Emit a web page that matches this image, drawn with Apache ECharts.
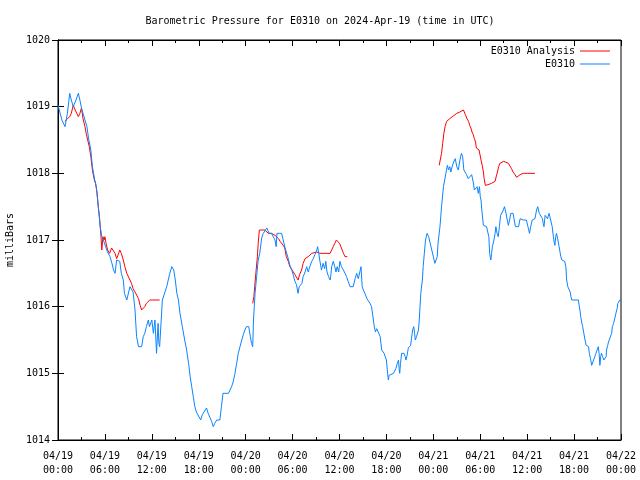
<!DOCTYPE html>
<html>
<head>
<meta charset="utf-8">
<script src="https://cdn.jsdelivr.net/npm/echarts@6/dist/echarts.min.js"></script>
<style>html,body{margin:0;padding:0;background:#fff}#c{width:640px;height:480px}</style>
</head>
<body>
<div id="c"></div>
<script>
// Hours since 2024-04-19 00:00 UTC
var timeObs = [0.0,0.5,0.9,1.2,1.5,1.7,1.95,2.3,2.6,2.8,3.0,3.2,3.45,3.7,3.9,4.2,4.4,4.7,4.9,5.15,5.4,5.6,5.8,6.0,6.3,6.65,6.9,7.1,7.3,7.5,7.9,8.1,8.35,8.5,8.8,9.0,9.2,9.6,9.85,10.05,10.3,10.7,10.9,11.1,11.3,11.55,11.7,12.0,12.2,12.4,12.6,12.8,12.9,13.0,13.35,13.6,13.9,14.1,14.3,14.55,14.8,15.0,15.2,15.4,15.6,15.9,16.2,16.45,16.7,16.9,17.1,17.3,17.5,17.7,17.95,18.25,18.45,18.7,19.0,19.2,19.4,19.65,19.85,20.05,20.3,20.7,20.9,21.1,21.8,22.0,22.2,22.4,22.6,22.85,23.05,23.2,23.5,23.7,23.9,24.1,24.4,24.6,24.75,24.9,25.0,25.1,25.2,25.4,25.6,25.8,26.05,26.25,26.45,26.7,26.9,27.0,27.3,27.55,27.75,27.9,28.0,28.3,28.6,28.8,29.0,29.2,29.45,29.65,29.9,30.1,30.3,30.5,30.7,30.85,31.0,31.2,31.35,31.6,31.8,32.0,32.2,32.45,32.65,32.85,33.1,33.2,33.35,33.5,33.7,33.9,34.1,34.25,34.4,34.6,34.8,34.9,35.0,35.2,35.4,35.55,35.7,35.9,36.05,36.25,36.5,36.7,36.9,37.1,37.35,37.75,38.0,38.2,38.4,38.6,38.75,38.9,39.05,39.25,39.5,39.7,39.9,40.1,40.3,40.45,40.6,40.75,40.95,41.2,41.3,41.4,41.7,41.85,42.0,42.15,42.25,42.35,42.5,42.9,43.05,43.2,43.4,43.55,43.62,43.7,43.8,43.95,44.25,44.4,44.5,44.65,44.8,44.95,45.1,45.2,45.35,45.5,45.6,45.7,45.85,46.1,46.2,46.3,46.4,46.6,46.7,46.85,47.0,47.2,47.4,47.6,47.8,48.0,48.2,48.35,48.5,48.6,48.85,49.05,49.3,49.45,49.6,49.8,49.95,50.1,50.25,50.4,50.6,50.8,51.0,51.2,51.4,51.6,51.75,51.9,52.1,52.25,52.45,52.7,52.9,53.1,53.25,53.4,53.6,53.75,53.9,54.0,54.1,54.2,54.4,54.6,54.8,55.0,55.1,55.2,55.35,55.45,55.55,55.75,55.9,56.0,56.15,56.3,56.45,56.6,56.75,56.95,57.1,57.3,57.45,57.6,57.75,57.9,58.2,58.35,58.5,58.9,59.1,59.3,59.5,59.9,60.1,60.3,60.45,60.65,61.0,61.2,61.35,61.55,61.75,61.95,62.05,62.15,62.3,62.45,62.6,62.8,62.9,63.0,63.2,63.35,63.45,63.55,63.65,63.75,63.9,64.05,64.2,64.3,64.45,64.6,64.8,64.95,65.05,65.2,65.35,65.5,65.6,65.7,66.55,66.65,66.75,66.85,67.0,67.1,67.25,67.4,67.55,67.7,67.85,67.95,68.1,68.25,68.4,68.55,68.65,68.8,68.95,69.1,69.2,69.3,69.4,69.5,69.65,69.8,70.0,70.1,70.15,70.3,70.4,70.65,70.8,70.9,71.05,71.2,71.35,71.5,71.6,71.7,71.85,72.0];
var pressureObs = [1019.02,1018.8,1018.70,1018.9,1019.20,1019.1,1019.0,1019.1,1019.2,1019.1,1018.98,1018.9,1018.9,1018.7,1018.53,1018.35,1018.1,1017.9,1017.8,1017.5,1017.2,1017.05,1017.0,1017.0,1016.83,1016.75,1016.65,1016.55,1016.5,1016.7,1016.68,1016.5,1016.4,1016.2,1016.1,1016.1,1016.3,1016.22,1015.95,1015.55,1015.4,1015.4,1015.55,1015.6,1015.7,1015.8,1015.7,1015.8,1015.6,1015.8,1015.3,1015.75,1015.45,1015.4,1016.1,1016.1,1016.3,1016.4,1016.5,1016.6,1016.55,1016.4,1016.2,1016.1,1015.9,1015.7,1015.5,1015.35,1015.15,1014.95,1014.8,1014.65,1014.5,1014.42,1014.4,1014.3,1014.38,1014.4,1014.48,1014.4,1014.38,1014.28,1014.2,1014.25,1014.3,1014.3,1014.5,1014.7,1014.7,1014.72,1014.8,1014.87,1014.98,1015.15,1015.3,1015.32,1015.5,1015.58,1015.65,1015.7,1015.7,1015.55,1015.45,1015.4,1015.8,1016.0,1016.2,1016.45,1016.7,1016.8,1017.03,1017.1,1017.12,1017.18,1017.2,1017.1,1017.1,1017.1,1017.0,1016.9,1017.1,1017.1,1017.1,1017.0,1016.9,1016.82,1016.72,1016.62,1016.55,1016.47,1016.38,1016.33,1016.2,1016.3,1016.28,1016.35,1016.45,1016.52,1016.6,1016.52,1016.6,1016.68,1016.72,1016.78,1016.85,1016.9,1016.8,1016.68,1016.55,1016.65,1016.57,1016.68,1016.52,1016.45,1016.4,1016.48,1016.6,1016.68,1016.6,1016.52,1016.6,1016.52,1016.68,1016.6,1016.55,1016.5,1016.45,1016.38,1016.3,1016.3,1016.42,1016.5,1016.42,1016.52,1016.6,1016.3,1016.25,1016.2,1016.12,1016.1,1016.05,1016.0,1015.97,1015.7,1015.62,1015.67,1015.62,1015.55,1015.45,1015.35,1015.3,1015.3,1015.2,1015.0,1014.9,1014.97,1015.0,1015.0,1015.02,1015.07,1015.15,1015.2,1015.07,1015.0,1015.15,1015.3,1015.3,1015.25,1015.2,1015.27,1015.38,1015.35,1015.42,1015.52,1015.65,1015.7,1015.6,1015.5,1015.55,1015.65,1015.8,1016.0,1016.2,1016.4,1016.6,1016.8,1017.0,1017.1,1017.05,1016.95,1016.85,1016.75,1016.65,1016.62,1016.75,1016.95,1017.2,1017.5,1017.8,1017.82,1018.0,1018.12,1018.05,1018.1,1018.02,1018.1,1018.17,1018.22,1018.1,1018.05,1018.2,1018.3,1018.25,1018.05,1018.02,1017.98,1017.92,1017.92,1017.98,1017.87,1017.75,1017.75,1017.8,1017.7,1017.8,1017.65,1017.6,1017.45,1017.22,1017.2,1017.2,1017.2,1017.05,1016.8,1016.7,1016.8,1016.9,1017.0,1017.1,1017.2,1017.1,1017.05,1017.2,1017.37,1017.35,1017.45,1017.5,1017.4,1017.3,1017.22,1017.3,1017.4,1017.4,1017.3,1017.2,1017.2,1017.32,1017.35,1017.3,1017.3,1017.2,1017.1,1017.2,1017.3,1017.32,1017.45,1017.5,1017.4,1017.37,1017.32,1017.25,1017.2,1017.37,1017.4,1017.32,1017.4,1017.35,1017.3,1017.2,1017.05,1016.97,1016.92,1017.05,1017.1,1017.02,1016.92,1016.82,1016.75,1016.7,1016.7,1016.68,1016.6,1016.4,1016.3,1016.3,1016.22,1016.15,1016.1,1016.1,1016.02,1015.95,1015.85,1015.75,1015.7,1015.6,1015.5,1015.42,1015.4,1015.4,1015.3,1015.22,1015.12,1015.17,1015.2,1015.25,1015.3,1015.35,1015.4,1015.3,1015.12,1015.25,1015.3,1015.25,1015.2,1015.2,1015.25,1015.35,1015.42,1015.47,1015.5,1015.6,1015.7,1015.75,1015.82,1015.9,1015.97,1016.05,1016.07,1016.1,1016.1];

// Analysis: null marks a gap between runs
var timeAna = [0.9,1.2,1.5,1.7,1.95,2.2,2.4,2.6,2.8,3.0,3.2,3.45,3.6,3.8,4.0,4.2,4.4,4.65,4.8,5.0,5.15,5.3,5.4,5.5,5.6,5.75,5.9,6.0,6.15,6.35,6.6,6.85,7.05,7.3,7.5,7.7,7.9,8.1,8.35,8.55,8.8,9.0,9.2,9.4,9.6,9.85,10.05,10.3,10.5,10.7,10.9,11.1,11.3,11.75,12.4,13.0,
  18.0,
  24.9,25.05,25.15,25.3,25.5,25.6,25.75,26.05,26.25,26.45,26.7,26.9,27.1,27.3,27.55,27.75,28.0,28.2,28.4,28.6,28.8,29.0,29.2,29.45,29.65,29.9,30.1,30.3,30.5,30.7,30.9,31.15,31.35,31.6,31.8,32.0,32.2,32.45,32.65,33.1,33.5,33.9,34.3,34.8,35.0,35.2,35.4,35.6,35.8,36.0,36.25,36.5,36.7,37.0,
  43.0,
  48.75,48.9,49.05,49.2,49.35,49.5,49.7,49.9,50.1,50.3,50.55,50.8,51.0,51.2,51.4,51.6,51.85,51.95,52.1,52.3,52.5,52.65,52.8,52.95,53.1,53.25,53.4,53.5,53.65,53.85,53.95,54.1,54.25,54.4,54.5,54.65,55.0,55.45,55.9,56.1,56.2,56.35,56.5,56.65,57.0,57.15,57.6,57.8,58.0,58.2,58.45,58.65,58.9,59.1,59.5,60.0,61.0];
var pressureAna = [1018.78,1018.82,1018.85,1018.9,1019.02,1018.95,1018.93,1018.85,1018.9,1018.98,1018.82,1018.7,1018.6,1018.5,1018.4,1018.25,1018.05,1017.9,1017.85,1017.7,1017.5,1017.35,1017.2,1017.05,1016.85,1017.05,1017.0,1017.05,1016.95,1016.85,1016.8,1016.88,1016.85,1016.8,1016.72,1016.78,1016.85,1016.8,1016.7,1016.6,1016.5,1016.5,1016.4,1016.35,1016.27,1016.22,1016.2,1016.12,1016.02,1015.95,1015.95,1016.0,1016.05,1016.1,1016.1,1016.1,
  null,
  1016.05,1016.15,1016.3,1016.5,1016.75,1016.95,1017.15,1017.15,1017.12,1017.15,1017.12,1017.1,1017.1,1017.1,1017.1,1017.07,1017.05,1017.02,1016.98,1016.95,1016.92,1016.88,1016.75,1016.68,1016.6,1016.6,1016.52,1016.48,1016.45,1016.4,1016.48,1016.55,1016.65,1016.72,1016.75,1016.75,1016.77,1016.8,1016.82,1016.82,1016.8,1016.8,1016.8,1016.8,1016.85,1016.9,1016.95,1017.0,1017.0,1016.95,1016.88,1016.8,1016.75,1016.75,
  null,
  1018.12,1018.12,1018.3,1018.45,1018.6,1018.7,1018.78,1018.8,1018.82,1018.85,1018.86,1018.88,1018.9,1018.92,1018.92,1018.95,1018.95,1018.92,1018.88,1018.82,1018.78,1018.72,1018.68,1018.62,1018.58,1018.52,1018.47,1018.38,1018.37,1018.35,1018.32,1018.2,1018.12,1018.02,1017.92,1017.82,1017.83,1017.85,1017.88,1017.98,1018.02,1018.1,1018.15,1018.18,1018.18,1018.16,1018.15,1018.12,1018.07,1018.02,1017.98,1017.94,1017.95,1017.98,1018.0,1018.0,1018.0];

var xTickDays = ['04/19','04/20','04/21','04/22'];
var yTicks = [1014,1015,1016,1017,1018,1019,1020];

function zip(t, v) { return t.map(function (x, i) { return [x, v[i]]; }); }

var font = 'DejaVu Sans Mono, Liberation Mono, monospace';
function xLabel(h) {
  var d = Math.floor(h / 24), hr = h - d * 24;
  return xTickDays[d] + '\n' + (hr < 10 ? '0' : '') + hr + ':00';
}
var txt = { fontFamily: font, fontSize: 10, color: '#000' };
var legendBase = { orient: 'vertical', right: 30, align: 'right', icon: 'rect',
  itemWidth: 30, itemHeight: 1, itemGap: 5, textStyle: txt, padding: 0 };

var chart = echarts.init(document.getElementById('c'), null, { renderer: 'canvas' });
chart.setOption({
  animation: false,
  backgroundColor: '#fff',
  title: {
    text: 'Barometric Pressure for E0310 on 2024-Apr-19 (time in UTC)',
    left: 'center', top: 16, padding: 0,
    textStyle: { fontFamily: font, fontSize: 10, fontWeight: 'normal', color: '#000' }
  },
  legend: [
    Object.assign({ data: ['E0310 Analysis'], top: 46 }, legendBase),
    Object.assign({ data: ['E0310'], top: 59 }, legendBase)
  ],
  grid: { left: 58, right: 19, top: 40, bottom: 40, show: true, borderColor: '#000', borderWidth: 1,
    containLabel: false, outerBoundsMode: 'none' },
  xAxis: [
    { type: 'value', min: 0, max: 72, interval: 6, position: 'bottom',
      axisLine: { show: true, lineStyle: { color: '#000' } },
      axisTick: { show: true, inside: true, length: 6, lineStyle: { color: '#000' } },
      minorTick: { show: true, splitNumber: 2, length: 3, lineStyle: { color: '#000' } },
      splitLine: { show: false },
      axisLabel: Object.assign({ formatter: xLabel, margin: 9, lineHeight: 14 }, txt) },
    { type: 'value', min: 0, max: 72, interval: 6, position: 'top',
      axisLine: { show: true, lineStyle: { color: '#000' } },
      axisTick: { show: true, inside: true, length: 6, lineStyle: { color: '#000' } },
      minorTick: { show: true, splitNumber: 2, length: 3, lineStyle: { color: '#000' } },
      splitLine: { show: false }, axisLabel: { show: false } }
  ],
  yAxis: [
    { type: 'value', min: yTicks[0], max: yTicks[yTicks.length - 1], interval: 1, position: 'left',
      name: 'milliBars', nameLocation: 'middle', nameRotate: 90, nameGap: 43,
      nameTextStyle: txt,
      axisLine: { show: true, lineStyle: { color: '#000' } },
      axisTick: { show: true, inside: true, length: 6, lineStyle: { color: '#000' } },
      splitLine: { show: false },
      axisLabel: Object.assign({ margin: 8, formatter: function (v) { return String(v); } }, txt) },
    { type: 'value', min: yTicks[0], max: yTicks[yTicks.length - 1], interval: 1, position: 'right',
      axisLine: { show: true, lineStyle: { color: '#000' } },
      axisTick: { show: true, inside: true, length: 6, lineStyle: { color: '#000' } },
      splitLine: { show: false }, axisLabel: { show: false } }
  ],
  series: [
    { name: 'E0310 Analysis', type: 'line', data: zip(timeAna, pressureAna), showSymbol: false, symbol: 'none',
      connectNulls: false, color: '#ff0000', lineStyle: { width: 1, color: '#ff0000' } },
    { name: 'E0310', type: 'line', data: zip(timeObs, pressureObs), showSymbol: false, symbol: 'none',
      color: '#0a84ff', lineStyle: { width: 1, color: '#0a84ff' } }
  ]
});
</script>
</body>
</html>
